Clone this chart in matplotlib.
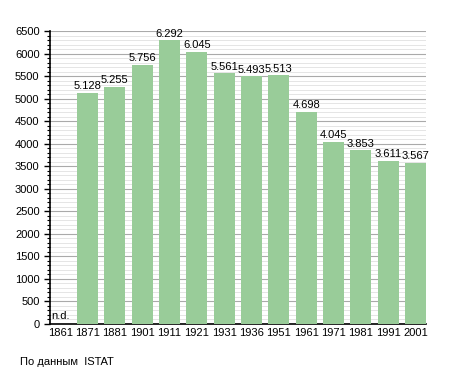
import matplotlib
matplotlib.use("Agg")
import matplotlib.pyplot as plt
from matplotlib.ticker import MultipleLocator

years = ["1861", "1871", "1881", "1901", "1911", "1921", "1931", "1936", "1951", "1961", "1971", "1981", "1991", "2001"]
population = [None, 5128, 5255, 5756, 6292, 6045, 5561, 5493, 5513, 4698, 4045, 3853, 3611, 3567]
labels = [None, "5.128", "5.255", "5.756", "6.292", "6.045", "5.561", "5.493", "5.513", "4.698", "4.045", "3.853", "3.611", "3.567"]

plt.rcParams['font.family'] = ['Liberation Sans', 'DejaVu Sans']

fig = plt.figure(figsize=(4.55, 3.73), dpi=100)
ax = fig.add_axes([50/455, 1-324/373, 376/455, 293/373])

x = list(range(len(years)))
vals = [v if v is not None else 0 for v in population]
ax.bar(x, vals, width=0.77, color="#99cc99", zorder=3)
for xi, v, lab in zip(x, population, labels):
    if v is None:
        ax.text(xi, 60, "n.d.", ha="center", va="bottom", fontsize=8, zorder=4)
    else:
        ax.text(xi, v + 40, lab, ha="center", va="bottom", fontsize=8, zorder=4)

ax.set_xlim(-0.375, len(years) - 1 + 0.385)
ax.set_ylim(0, 6500)
ax.set_xticks(x)
ax.set_xticklabels(years, fontsize=8)
ax.yaxis.set_major_locator(MultipleLocator(500))
ax.yaxis.set_minor_locator(MultipleLocator(100))
ax.tick_params(axis='y', labelsize=8, length=4, width=1, direction='out')
ax.tick_params(axis='y', which='minor', length=2, width=0.8)
ax.tick_params(axis='x', length=0, pad=3)
ax.grid(axis='y', which='major', color='#aaaaaa', linewidth=0.8, zorder=0)
ax.grid(axis='y', which='minor', color='#e0e0e0', linewidth=0.6, zorder=0)
for s in ['top', 'right']:
    ax.spines[s].set_visible(False)
ax.spines['left'].set_linewidth(1.2)
ax.spines['bottom'].set_linewidth(1.2)

fig.text(20/455, 1-362/373, "По данным  ISTAT", fontsize=8, va="center", ha="left")

fig.savefig("out.png", dpi=100)
